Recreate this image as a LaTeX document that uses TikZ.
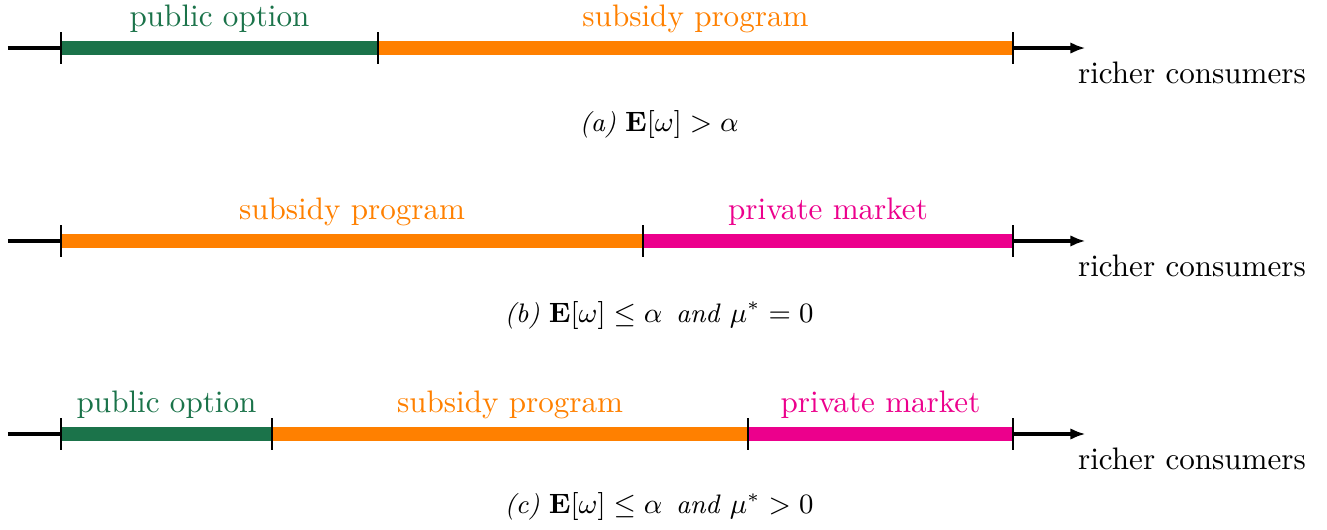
\documentclass[tikz,border=0pt]{standalone}
\usetikzlibrary{arrows.meta, calc}

\definecolor{publicgreen}{RGB}{27,115,74}
\definecolor{subsidyorange}{RGB}{255,128,0}
\definecolor{privatepink}{RGB}{236,0,140}

\tikzset{
    axisline/.style={line width=1pt, -{Latex[length=1.7mm,width=1.3mm]}},
    segbar/.style={line width=4.2pt},
    tickmark/.style={line width=0.8pt},
    seglabel/.style={anchor=base, inner sep=0pt},
    richlabel/.style={anchor=base west, inner sep=0pt},
    caption/.style={inner sep=0pt, font=\fontsize{8.6}{10}\selectfont}
}

\begin{document}
\begin{tikzpicture}
    \useasboundingbox (0, 0) rectangle (15, 5.98);

    % variables
    \def\axisstart{0.09}
    \def\axisleft{0.69}
    \def\axisright{11.45}
    \def\axistip{12.27}
    \def\tick{0.18}     % half length of the tick marks
    \def\labelup{0.24}  % baseline of the segment labels above the line
    \def\captionx{7.45}

    % (a) public option, subsidy program
    \def\rowy{5.437}
    \coordinate (a0) at (\axisstart, \rowy);
    \coordinate (a1) at (\axisleft, \rowy);
    \coordinate (a2) at (4.273, \rowy);
    \coordinate (a3) at (\axisright, \rowy);
    \coordinate (aend) at (\axistip, \rowy);
    \draw[axisline] (a0) -- (aend);
    \draw[segbar, publicgreen] (a1) -- (a2);
    \draw[segbar, subsidyorange] (a2) -- (a3);
    \foreach \p in {a1, a2, a3}
        \draw[tickmark] ([yshift=-\tick cm]\p) -- ([yshift=\tick cm]\p);
    \node[seglabel, text=publicgreen] (apublic) at ($(a1)!0.5!(a2) + (0, \labelup)$) {public option};
    \node[seglabel, text=subsidyorange] (asubsidy) at ($(a2)!0.5!(a3) + (0, \labelup)$) {subsidy program};
    \node[richlabel] (arich) at ([xshift=-0.09cm, yshift=-0.40cm]aend) {richer consumers};
    \node[caption] (acap) at (\captionx, 4.567) {\textit{(a)} $\mathbf{E}[\omega] > \alpha$};

    % (b) subsidy program, private market
    \def\rowy{3.256}
    \coordinate (b0) at (\axisstart, \rowy);
    \coordinate (b1) at (\axisleft, \rowy);
    \coordinate (b2) at (7.269, \rowy);
    \coordinate (b3) at (\axisright, \rowy);
    \coordinate (bend) at (\axistip, \rowy);
    \draw[axisline] (b0) -- (bend);
    \draw[segbar, subsidyorange] (b1) -- (b2);
    \draw[segbar, privatepink] (b2) -- (b3);
    \foreach \p in {b1, b2, b3}
        \draw[tickmark] ([yshift=-\tick cm]\p) -- ([yshift=\tick cm]\p);
    \node[seglabel, text=subsidyorange] (bsubsidy) at ($(b1)!0.5!(b2) + (0, \labelup)$) {subsidy program};
    \node[seglabel, text=privatepink] (bprivate) at ($(b2)!0.5!(b3) + (0, \labelup)$) {private market};
    \node[richlabel] (brich) at ([xshift=-0.09cm, yshift=-0.40cm]bend) {richer consumers};
    \node[caption] (bcap) at (\captionx, 2.419) {\textit{(b)} $\mathbf{E}[\omega] \leq \alpha$\, \textit{and} $\mu^* = 0$};

    % (c) public option, subsidy program, private market
    \def\rowy{1.074}
    \coordinate (c0) at (\axisstart, \rowy);
    \coordinate (c1) at (\axisleft, \rowy);
    \coordinate (c2) at (3.075, \rowy);
    \coordinate (c3) at (8.456, \rowy);
    \coordinate (c4) at (\axisright, \rowy);
    \coordinate (cend) at (\axistip, \rowy);
    \draw[axisline] (c0) -- (cend);
    \draw[segbar, publicgreen] (c1) -- (c2);
    \draw[segbar, subsidyorange] (c2) -- (c3);
    \draw[segbar, privatepink] (c3) -- (c4);
    \foreach \p in {c1, c2, c3, c4}
        \draw[tickmark] ([yshift=-\tick cm]\p) -- ([yshift=\tick cm]\p);
    \node[seglabel, text=publicgreen] (cpublic) at ($(c1)!0.5!(c2) + (0, \labelup)$) {public option};
    \node[seglabel, text=subsidyorange] (csubsidy) at ($(c2)!0.5!(c3) + (0, \labelup)$) {subsidy program};
    \node[seglabel, text=privatepink] (cprivate) at ($(c3)!0.5!(c4) + (0, \labelup)$) {private market};
    \node[richlabel] (crich) at ([xshift=-0.09cm, yshift=-0.40cm]cend) {richer consumers};
    \node[caption] (ccap) at (\captionx, 0.249) {\textit{(c)} $\mathbf{E}[\omega] \leq \alpha$\, \textit{and} $\mu^* > 0$};

\end{tikzpicture}
\end{document}
